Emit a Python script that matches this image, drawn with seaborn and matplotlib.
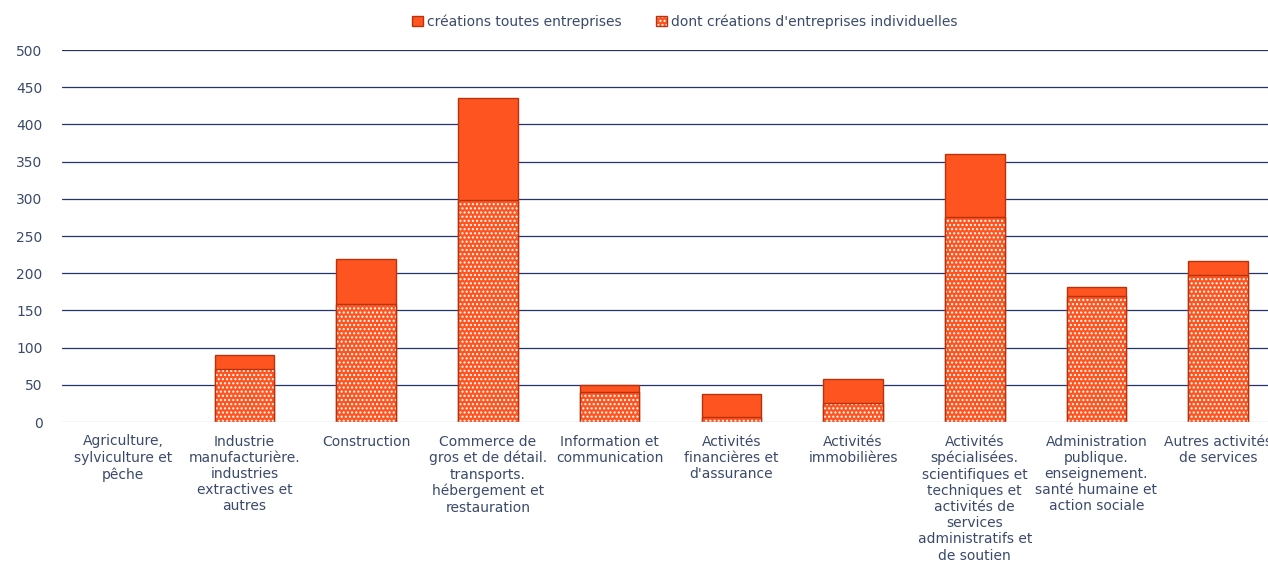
import pandas as pd
import matplotlib
matplotlib.use("Agg")
import matplotlib.pyplot as plt
import seaborn as sns
from matplotlib.patches import Patch
from matplotlib.legend_handler import HandlerTuple

categories = [
    "Agriculture,\nsylviculture et\npêche",
    "Industrie\nmanufacturière.\nindustries\nextractives et\nautres",
    "Construction",
    "Commerce de\ngros et de détail.\ntransports.\nhébergement et\nrestauration",
    "Information et\ncommunication",
    "Activités\nfinancières et\nd'assurance",
    "Activités\nimmobilières",
    "Activités\nspécialisées.\nscientifiques et\ntechniques et\nactivités de\nservices\nadministratifs et\nde soutien",
    "Administration\npublique.\nenseignement.\nsanté humaine et\naction sociale",
    "Autres activités\nde services",
]
total = [0, 90, 219, 436, 50, 37, 58, 360, 182, 217]
individuelles = [0, 71, 159, 299, 40, 7, 25, 275, 170, 198]

label_total = "créations toutes entreprises"
label_indiv = "dont créations d'entreprises individuelles"

orange = "#fe5420"
edge = "#b8330c"
text_col = "#3b4a6b"
grid_col = "#26336a"

df = pd.DataFrame({"cat": categories, "total": total, "indiv": individuelles})

sns.set_theme(style="white")
plt.rcParams["font.family"] = ["Verdana", "DejaVu Sans"]

fig = plt.figure(figsize=(12.68, 5.63), dpi=100)
ax = fig.add_axes([62 / 1268, 141 / 563, 1217 / 1268, 372 / 563])

sns.barplot(data=df, x="cat", y="total", color=orange, saturation=1,
            width=0.49, edgecolor=edge, linewidth=1, ax=ax, zorder=3)
sns.barplot(data=df, x="cat", y="indiv", color=orange, saturation=1,
            width=0.49, edgecolor="white", linewidth=0, hatch="....",
            ax=ax, zorder=4)
sns.barplot(data=df, x="cat", y="indiv", fill=False, saturation=1,
            width=0.49, edgecolor=edge, linewidth=1, ax=ax, zorder=5)

# hide empty bars (agriculture)
for p in ax.patches:
    if p.get_height() == 0:
        p.set_visible(False)

ax.set_ylim(0, 500)
ax.set_yticks(range(0, 501, 50))
ax.set_xlim(-0.5, len(categories) - 0.5)
for y in range(50, 501, 50):
    ax.axhline(y, color=grid_col, lw=0.9, zorder=1)
ax.axhline(0, color="#c9d0e0", lw=1, zorder=6)

ax.set_xlabel("")
ax.set_ylabel("")
for s in ax.spines.values():
    s.set_visible(False)
ax.tick_params(axis="y", colors=text_col, labelsize=10, length=0, pad=14)
ax.tick_params(axis="x", colors=text_col, labelsize=10, length=0, pad=9)
for t in ax.get_xticklabels():
    t.set_linespacing(1.2)

h_total = Patch(facecolor=orange, edgecolor=edge)
h_indiv = (Patch(facecolor=orange, edgecolor="white", linewidth=0, hatch="...."),
           Patch(fill=False, edgecolor=edge))
fig.legend([h_total, h_indiv], [label_total, label_indiv], loc="center",
           bbox_to_anchor=(0.54, 0.962), ncol=2,
           handler_map={tuple: HandlerTuple(ndivide=1)},
           frameon=False, fontsize=10, labelcolor=text_col, handlelength=0.8,
           handleheight=0.8, handletextpad=0.3, columnspacing=2.5)

fig.savefig("out.png", dpi=100)
